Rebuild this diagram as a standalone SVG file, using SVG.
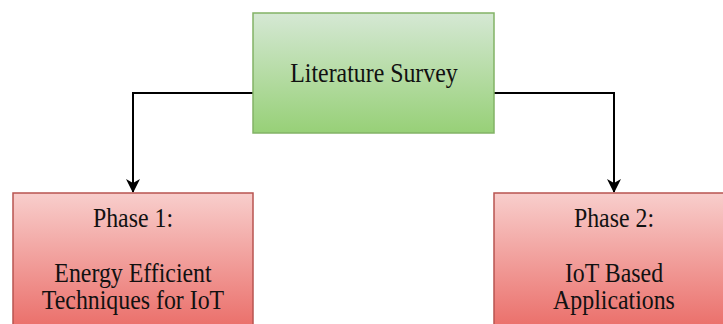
<svg xmlns="http://www.w3.org/2000/svg" width="723" height="324" viewBox="0 0 723 324">
  <defs>
    <linearGradient id="gGreen" x1="0" y1="0" x2="0" y2="1">
      <stop offset="0" stop-color="#d5e8d4"/>
      <stop offset="1" stop-color="#97d077"/>
    </linearGradient>
    <linearGradient id="gRed" x1="0" y1="0" x2="0" y2="1">
      <stop offset="0" stop-color="#f8cecc"/>
      <stop offset="1" stop-color="#ea6b66"/>
    </linearGradient>
    <marker id="arrow" viewBox="0 0 14 14" refX="13" refY="7" markerWidth="14" markerHeight="14" markerUnits="userSpaceOnUse" orient="auto">
      <path d="M0,0 L14,7 L0,14 L4,7 Z" fill="#000"/>
    </marker>
    <style>
      .green { fill: url(#gGreen); stroke: #82b366; stroke-width: 1.5; }
      .red { fill: url(#gRed); stroke: #b85450; stroke-width: 1.5; }
      .lbl { font-family: "Liberation Serif", "Times New Roman", serif; font-size: 26.5px; fill: #111; text-anchor: middle; }
      .conn { fill: none; stroke: #000; stroke-width: 2; marker-end: url(#arrow); }
    </style>
  </defs>

  <g id="connectors">
    <path class="conn" d="M253,93 L133,93 L133,192"/>
    <path class="conn" d="M494,93 L614,93 L614,192"/>
  </g>

  <g id="literature-survey">
    <rect class="green" x="253" y="13" width="241" height="120"/>
    <text class="lbl" transform="translate(374 82) scale(0.9 1)">Literature Survey</text>
  </g>

  <g id="phase1">
    <rect class="red" x="13" y="193" width="240" height="140"/>
    <text class="lbl" transform="translate(133 227) scale(0.9 1)">Phase 1:</text>
    <text class="lbl" transform="translate(133 282) scale(0.9 1)">Energy Efficient</text>
    <text class="lbl" transform="translate(133 309) scale(0.9 1)">Techniques for IoT</text>
  </g>

  <g id="phase2">
    <rect class="red" x="494" y="193" width="240" height="140"/>
    <text class="lbl" transform="translate(614 227) scale(0.9 1)">Phase 2:</text>
    <text class="lbl" transform="translate(614 282) scale(0.9 1)">IoT Based</text>
    <text class="lbl" transform="translate(614 309) scale(0.9 1)">Applications</text>
  </g>
</svg>
